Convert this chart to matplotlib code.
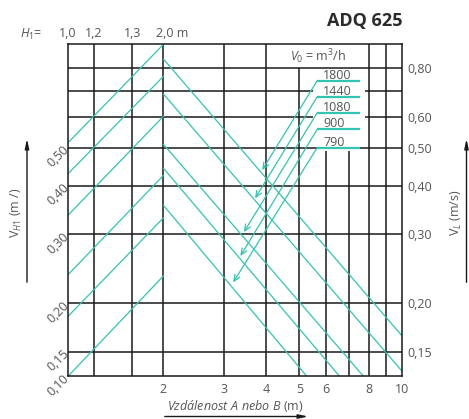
import numpy as np
import matplotlib.pyplot as plt
from matplotlib.ticker import NullLocator

plt.rcParams['font.family'] = ['Open Sans', 'DejaVu Sans']
plt.rcParams['mathtext.fontset'] = 'custom'
plt.rcParams['mathtext.rm'] = 'Open Sans'
plt.rcParams['mathtext.it'] = 'Open Sans:italic'

GRID = '#1a1a1a'
TEAL = '#33c4b2'
TXT = '#555555'

# axis ranges (log-log nomogram)
x_range = (1.05, 10)
y_range = (0.13, 0.92)

# bottom distance scale
x_ticks = [2, 3, 4, 5, 6, 8, 10]
x_labels = ['2', '3', '4', '5', '6', '8', '10']

# left (V_H1) and right (V_L) scales
left_ticks = [0.13, 0.15, 0.2, 0.3, 0.4, 0.5]
left_labels = ['0,10', '0,15', '0,20', '0,30', '0,40', '0,50']
right_ticks = [0.15, 0.2, 0.3, 0.4, 0.5, 0.6, 0.8]
right_labels = ['0,15', '0,20', '0,30', '0,40', '0,50', '0,60', '0,80']

# H1 scale on top
h1_pos = [1.05, 1.25, 1.62, 2]
h1_labels = ['1,0', '1,2', '1,3', '2,0 m']

# grid lines
vert_full = [1.25, 1.62, 2, 3, 4, 8, 9]
vert_5_top = 0.8
vert_short = [6, 7]
vert_short_top = 0.49
horiz_full = [0.15, 0.2, 0.3, 0.4, 0.5, 0.8]
horiz_split = [0.6, 0.7]
split_gap = (5.47, 7.8)

# rising V_H1 lines, from left edge to x = 2
rise_y0 = [0.515, 0.429, 0.336, 0.2365, 0.185, 0.13]
rise_y1 = [0.92, 0.762, 0.602, 0.425, 0.331, 0.235]

# falling lines from x = 2
fall_y0 = [0.843, 0.686, 0.510, 0.443, 0.356]
fall_x1 = [10, 10, 7.71, 6.56, 5.26]
fall_y1 = [0.165, 0.134, 0.13, 0.13, 0.13]

# air flow V0 (m3/h)
flows = ['1800', '1440', '1080', '900', '790']
flow_y = [0.742, 0.675, 0.614, 0.557, 0.500]
flow_x = (5.64, 7.53)
arrow_x = [3.89, 3.71, 3.44, 3.36, 3.20]
arrow_y = [0.438, 0.371, 0.304, 0.264, 0.226]

fig = plt.figure(figsize=(4.69, 4.19), dpi=100)
ax = fig.add_axes([68 / 469, 1 - 376.3 / 419, 334 / 469, 332 / 419])
ax.set_xscale('log')
ax.set_yscale('log')
ax.set_xlim(*x_range)
ax.set_ylim(*y_range)
for s in ax.spines.values():
    s.set_color(GRID)
    s.set_linewidth(1.1)

# grid
ax.vlines(vert_full, y_range[0], y_range[1], color=GRID, lw=1.1)
ax.vlines(5, y_range[0], vert_5_top, color=GRID, lw=1.1)
ax.vlines(vert_short, y_range[0], vert_short_top, color=GRID, lw=1.1)
ax.hlines(horiz_full, x_range[0], x_range[1], color=GRID, lw=1.1)
ax.hlines(horiz_split, x_range[0], split_gap[0], color=GRID, lw=1.1)
ax.hlines(horiz_split, split_gap[1], x_range[1], color=GRID, lw=1.1)

# nomogram lines
for y0, y1 in zip(rise_y0, rise_y1):
    ax.plot([x_range[0], 2], [y0, y1], color=TEAL, lw=0.9)
for y0, x1, y1 in zip(fall_y0, fall_x1, fall_y1):
    ax.plot([2, x1], [y0, y1], color=TEAL, lw=0.9)

for name, fy, ax_, ay in zip(flows, flow_y, arrow_x, arrow_y):
    ax.plot(flow_x, [fy, fy], color=TEAL, lw=1.6, solid_capstyle='butt')
    ax.annotate('', xy=(ax_, ay), xytext=(flow_x[0], fy),
                arrowprops=dict(arrowstyle='->,head_length=0.5,head_width=0.22',
                                color=TEAL, lw=0.9, shrinkA=0, shrinkB=0,
                                mutation_scale=9))
    ax.annotate(name, xy=(5.87, fy), xytext=(0, 1.6), textcoords='offset points',
                ha='left', va='baseline', fontsize=9, color=TXT, zorder=5)

ax.text(5.67, 0.857, r'$V_0$ = m$^3$/h', ha='center', va='center',
        fontsize=9, color=TXT)

# ticks
ax.xaxis.set_minor_locator(NullLocator())
ax.yaxis.set_minor_locator(NullLocator())
ax.set_xticks(x_ticks)
ax.set_xticklabels(x_labels)
ax.set_yticks(left_ticks)
ax.set_yticklabels(left_labels, rotation=45, ha='right', va='center',
                   rotation_mode='anchor')
ax.tick_params(axis='x', length=0, pad=5, labelsize=9, labelcolor=TXT)
ax.tick_params(axis='y', length=0, pad=1, labelsize=9, labelcolor=TXT)

ax2 = ax.twinx()
ax2.set_yscale('log')
ax2.set_ylim(*y_range)
ax2.yaxis.set_minor_locator(NullLocator())
ax2.set_yticks(right_ticks)
ax2.set_yticklabels(right_labels)
ax2.tick_params(axis='y', length=0, pad=4, labelsize=9, labelcolor=TXT)
for s in ax2.spines.values():
    s.set_visible(False)

# H1 scale above the grid
for p, lab in zip(h1_pos, h1_labels):
    if lab.endswith('m'):
        ax.annotate(lab, xy=(p, 1), xycoords=('data', 'axes fraction'),
                    xytext=(-5.5, 5), textcoords='offset points',
                    ha='left', va='baseline', fontsize=9, color=TXT)
    else:
        ax.annotate(lab, xy=(p, 1), xycoords=('data', 'axes fraction'),
                    xytext=(0, 5), textcoords='offset points',
                    ha='center', va='baseline', fontsize=9, color=TXT)
fig.text(20 / 469, 1 - 38 / 419, r'$H_1$=', ha='left', va='baseline',
         fontsize=9, color=TXT)

fig.text(364.5 / 469, 1 - 21 / 419, 'ADQ 625', ha='center', va='center',
         fontsize=13, fontweight='bold', color='#2b2b2b')

# axis titles with direction arrows
fig.text(16.5 / 469, 1 - 213 / 419, r'$\mathrm{V}_{H1}$ (m /)', rotation=90,
         ha='center', va='center', fontsize=9, color=TXT)
fig.text(456.5 / 469, 1 - 213 / 419, r'$\mathrm{V}_{L}$ (m/s)', rotation=90,
         ha='center', va='center', fontsize=9, color=TXT)
for xa in (27 / 469, 466.5 / 469):
    fig.add_artist(plt.matplotlib.patches.FancyArrowPatch(
        (xa, 1 - 285 / 419), (xa, 1 - 136 / 419), transform=fig.transFigure,
        arrowstyle='-|>,head_length=0.7,head_width=0.15', mutation_scale=8,
        color=GRID, lw=1.0))

fig.text(166.5 / 469, 1 - 406 / 419, r'$\mathit{Vzdálenost\ A\ nebo\ B}$ (m)',
         ha='left', va='center', fontsize=9, color=TXT)
fig.add_artist(plt.matplotlib.patches.FancyArrowPatch(
    (162 / 469, 1 - 416.5 / 419), (311 / 469, 1 - 416.5 / 419),
    transform=fig.transFigure,
    arrowstyle='-|>,head_length=0.7,head_width=0.15', mutation_scale=8,
    color=GRID, lw=1.0))

fig.savefig('out.png', dpi=100)
